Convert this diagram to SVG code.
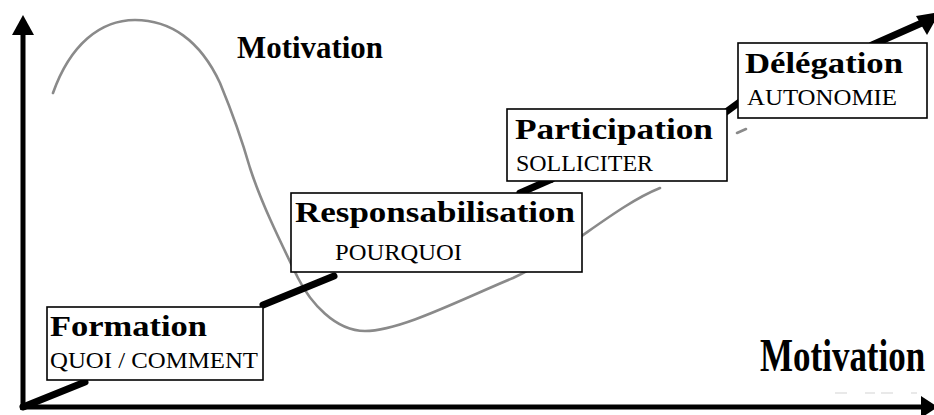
<svg xmlns="http://www.w3.org/2000/svg" width="934" height="415" viewBox="0 0 934 415">
  <style>
    .box { fill: #ffffff; stroke: #000000; stroke-width: 1.6; }
    .title { font-family: "Liberation Serif", "Times New Roman", serif; font-weight: bold; font-size: 30px; fill: #000000; }
    .sub { font-family: "Liberation Serif", "Times New Roman", serif; font-size: 24px; fill: #000000; }
    .label { font-family: "Liberation Serif", "Times New Roman", serif; font-weight: bold; fill: #000000; }
    .link { fill: none; stroke: #000000; stroke-width: 7; stroke-linecap: round; }
    .axis { fill: none; stroke: #000000; stroke-width: 5; }
    .curve { fill: none; stroke: #8a8a8a; stroke-width: 2.6; stroke-linecap: round; }
  </style>

  <!-- axes -->
  <g id="axes">
    <line class="axis" x1="23" y1="410" x2="23" y2="30"/>
    <polygon points="23,15 12,35 34,35" fill="#000000"/>
    <line class="axis" x1="20" y1="407" x2="924" y2="407"/>
    <polygon points="938,407 921,396 921,418" fill="#000000"/>
  </g>

  <!-- motivation curve -->
  <g id="curve">
    <path class="curve" d="M53,93 C70,45 100,20 135,20 C170,20 200,40 220,83 C232,112 242,140 250,168 C262,205 282,245 298,278 C310,302 335,331 365,331 C400,331 460,300 513,278 C565,254 615,206 660,188"/>
    <line class="curve" x1="737" y1="133" x2="746" y2="129"/>
    <line x1="835" y1="393" x2="917" y2="393" stroke="#e2e2e2" stroke-width="1.5" stroke-dasharray="12,18,10,6"/>
  </g>

  <!-- connectors between stages -->
  <g id="connectors">
    <line class="link" x1="23" y1="407" x2="85" y2="382"/>
    <line class="link" x1="263" y1="305" x2="334" y2="276"/>
    <line class="link" x1="520" y1="193" x2="552" y2="179"/>
    <line class="link" x1="726" y1="112" x2="741" y2="101"/>
    <line class="link" x1="872" y1="45" x2="924" y2="22"/>
    <polygon points="940,12 916,16 927,35" fill="#000000"/>
  </g>

  <g id="formation">
    <rect class="box" x="47" y="307" width="216" height="73"/>
    <text class="title" x="50" y="336" textLength="157" lengthAdjust="spacingAndGlyphs">Formation</text>
    <text class="sub" x="50" y="368" textLength="208" lengthAdjust="spacingAndGlyphs">QUOI / COMMENT</text>
  </g>

  <g id="responsabilisation">
    <rect class="box" x="291" y="193" width="291" height="79"/>
    <text class="title" x="295" y="222" textLength="280" lengthAdjust="spacingAndGlyphs">Responsabilisation</text>
    <text class="sub" x="335" y="260" textLength="127" lengthAdjust="spacingAndGlyphs">POURQUOI</text>
  </g>

  <g id="participation">
    <rect class="box" x="507" y="109" width="220" height="72"/>
    <text class="title" x="515" y="139" textLength="198" lengthAdjust="spacingAndGlyphs">Participation</text>
    <text class="sub" x="516" y="171" textLength="137" lengthAdjust="spacingAndGlyphs">SOLLICITER</text>
  </g>

  <g id="delegation">
    <rect class="box" x="738" y="43" width="189" height="75"/>
    <text class="title" x="745" y="73" textLength="158" lengthAdjust="spacingAndGlyphs">Délégation</text>
    <text class="sub" x="747" y="105" textLength="150" lengthAdjust="spacingAndGlyphs">AUTONOMIE</text>
  </g>

  <g id="labels">
    <text class="label" x="237" y="58" font-size="31" textLength="146" lengthAdjust="spacingAndGlyphs">Motivation</text>
    <!-- axis label: same face, stretched vertically -->
    <text class="label" transform="translate(760,371) scale(1,1.32)" x="0" y="0" font-size="35">Motivation</text>
  </g>
</svg>
